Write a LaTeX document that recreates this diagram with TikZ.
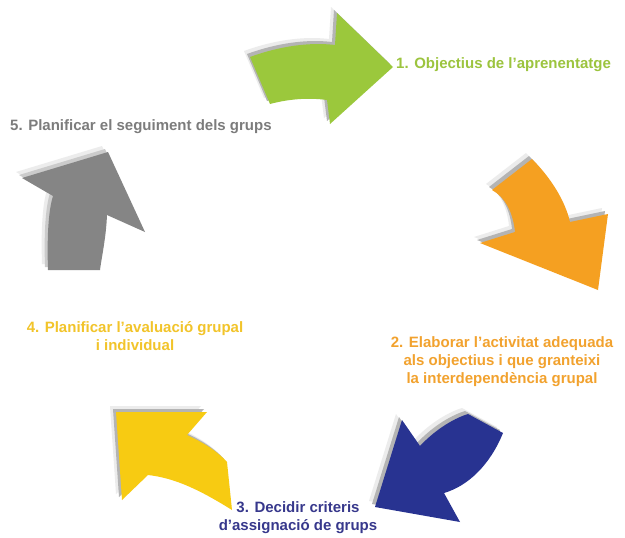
\documentclass[tikz,border=0pt]{standalone}
\usepackage{fontspec}
\setmainfont{Liberation Sans}
\usepackage{tikz}

\definecolor{stepgreen}{HTML}{9BC83C}
\definecolor{steporange}{HTML}{F5A021}
\definecolor{stepblue}{HTML}{283391}
\definecolor{stepyellow}{HTML}{F7CB12}
\definecolor{stepgrey}{HTML}{858585}
\definecolor{textgreen}{HTML}{9CC43E}
\definecolor{textorange}{HTML}{F2A22E}
\definecolor{textblue}{HTML}{37388C}
\definecolor{textyellow}{HTML}{F2C42A}
\definecolor{textgrey}{HTML}{7C7C7C}
\definecolor{edgegrey}{HTML}{B4B4B4}
\definecolor{glowgrey}{HTML}{ECECEC}

\begin{document}
\begin{tikzpicture}[
        x=1pt, y=-1pt,
        stagetext/.style={font=\bfseries\fontsize{15}{18}\selectfont, align=center, inner sep=0pt},
        edge3d/.style={fill=edgegrey, xshift=-3pt, yshift=3pt},
        glow/.style={fill=glowgrey, xshift=-6pt, yshift=6pt}
    ]
        \useasboundingbox[fill=white] (0,0) rectangle (625,538);

        % 1. green arrow (top)
        \fill[glow] (250,57) .. controls (280,46) and (310,42) .. (335,45) -- (337,13) -- (393,67) -- (330,124) -- (327,100) .. controls (305,97) and (285,100) .. (270,104) -- cycle;
        \fill[edge3d] (250,57) .. controls (280,46) and (310,42) .. (335,45) -- (337,13) -- (393,67) -- (330,124) -- (327,100) .. controls (305,97) and (285,100) .. (270,104) -- cycle;
        \fill[stepgreen] (250,57) .. controls (280,46) and (310,42) .. (335,45) -- (337,13) -- (393,67) -- (330,124) -- (327,100) .. controls (305,97) and (285,100) .. (270,104) -- cycle;

        % 2. orange arrow (right)
        \fill[glow] (492,190) -- (532,159) .. controls (550,177) and (565,200) .. (570,222) -- (608,214) -- (598,290) -- (480,243) -- (515,232) .. controls (513,212) and (505,197) .. cycle;
        \fill[edge3d] (492,190) -- (532,159) .. controls (550,177) and (565,200) .. (570,222) -- (608,214) -- (598,290) -- (480,243) -- (515,232) .. controls (513,212) and (505,197) .. cycle;
        \fill[steporange] (492,190) -- (532,159) .. controls (550,177) and (565,200) .. (570,222) -- (608,214) -- (598,290) -- (480,243) -- (515,232) .. controls (513,212) and (505,197) .. cycle;

        % 3. blue arrow (bottom right)
        \fill[glow] (375,507) -- (402,420) -- (420,446) .. controls (434,431) and (452,419) .. (468,414) -- (503,433) .. controls (490,465) and (468,486) .. (444,493) -- (460,522) -- cycle;
        \fill[edge3d] (375,507) -- (402,420) -- (420,446) .. controls (434,431) and (452,419) .. (468,414) -- (503,433) .. controls (490,465) and (468,486) .. (444,493) -- (460,522) -- cycle;
        \fill[stepblue] (375,507) -- (402,420) -- (420,446) .. controls (434,431) and (452,419) .. (468,414) -- (503,433) .. controls (490,465) and (468,486) .. (444,493) -- (460,522) -- cycle;

        % 4. yellow arrow (bottom left)
        \fill[glow] (116,412) -- (207,412) -- (187,435) .. controls (202,442) and (216,450) .. (227,462) -- (232,510) .. controls (200,490) and (175,478) .. (148,475) -- (122,500) -- cycle;
        \fill[edge3d] (116,412) -- (207,412) -- (187,435) .. controls (202,442) and (216,450) .. (227,462) -- (232,510) .. controls (200,490) and (175,478) .. (148,475) -- (122,500) -- cycle;
        \fill[stepyellow] (116,412) -- (207,412) -- (187,435) .. controls (202,442) and (216,450) .. (227,462) -- (232,510) .. controls (200,490) and (175,478) .. (148,475) -- (122,500) -- cycle;

        % 5. grey arrow (left)
        \fill[glow] (22,178) -- (108,152) -- (145,232) -- (107,215) .. controls (106,238) and (102,255) .. (100,270) -- (48,270) .. controls (47,240) and (48,212) .. (53,196) -- cycle;
        \fill[edge3d, fill=edgegrey!70] (22,178) -- (108,152) -- (145,232) -- (107,215) .. controls (106,238) and (102,255) .. (100,270) -- (48,270) .. controls (47,240) and (48,212) .. (53,196) -- cycle;
        \fill[stepgrey] (22,178) -- (108,152) -- (145,232) -- (107,215) .. controls (106,238) and (102,255) .. (100,270) -- (48,270) .. controls (47,240) and (48,212) .. (53,196) -- cycle;

        % labels
        \node[stagetext, text=textgreen, anchor=west] (objectius) at (396,65) {1. Objectius de l'aprenentatge};
        \node[stagetext, text=textorange] (activitat) at (502,362) {2. Elaborar l'activitat adequada\\als objectius i que granteixi\\la interdependència grupal};
        \node[stagetext, text=textblue] (criteris) at (298,518) {3. Decidir criteris\\d'assignació de grups};
        \node[stagetext, text=textyellow] (avaluacio) at (135,336) {4. Planificar l'avaluació grupal\\i individual};
        \node[stagetext, text=textgrey, anchor=west] (seguiment) at (10,127) {5. Planificar el seguiment dels grups};
    \end{tikzpicture}
\end{document}
